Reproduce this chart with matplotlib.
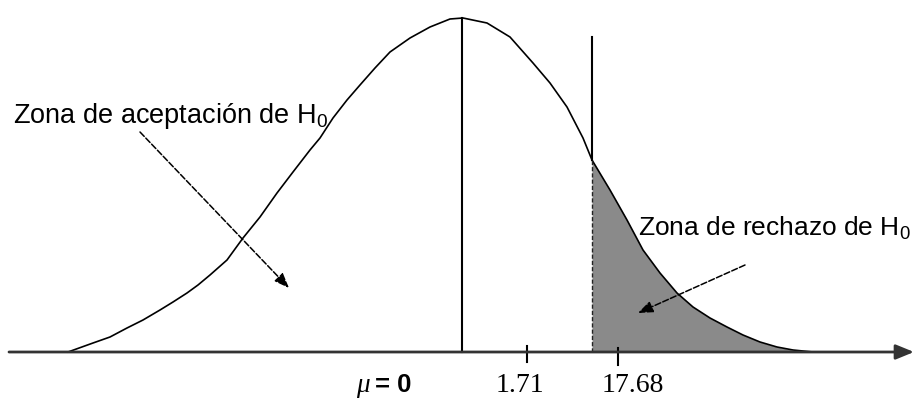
import matplotlib
matplotlib.use("Agg")
import matplotlib.pyplot as plt

# curve: horizontal position and height above the axis
curve_x = [68, 93, 110, 127, 143, 160, 173, 187, 198, 210, 227, 243, 260, 277,
           293, 310, 320, 333, 347, 360, 375, 390, 410, 430, 450, 463, 487, 510,
           533, 550, 567, 583, 592, 610, 627, 643, 660, 677, 693, 710, 727, 743,
           760, 777, 793, 813]
curve_h = [0, 9, 15, 24, 32, 42, 50, 59, 67, 77, 92, 114, 135, 159,
           180, 202, 214, 234, 252, 267, 284, 300, 314, 325, 333, 334, 329, 315,
           289, 269, 245, 214, 192, 162, 132, 102, 79, 59, 45, 34, 25, 17,
           10, 5, 2, 0]

mean_x = 462
critical_x = 592
critical_top = 315
tick_pos = [527, 618]
tick_labels = ["1.71", "17.68"]

accept_label = "Zona de aceptación de H$_\\mathrm{0}$"
reject_label = "Zona de rechazo de H$_\\mathrm{0}$"


def draw_chart() -> None:
    plt.rcParams["mathtext.fontset"] = "custom"
    plt.rcParams["mathtext.rm"] = "Liberation Sans"

    fig = plt.figure(figsize=(9.14, 4.0), dpi=100)
    ax = fig.add_axes([0, 0, 1, 1])
    ax.set_xlim(0, 914)
    ax.set_ylim(-48, 352)
    ax.axis("off")

    # rejection region
    shade_x = [x for x in curve_x if x >= critical_x]
    shade_h = [h for x, h in zip(curve_x, curve_h) if x >= critical_x]
    ax.fill_between(shade_x, 0, shade_h, color="#8a8a8a", lw=0)

    ax.plot(curve_x, curve_h, color="black", lw=1.2)

    # x axis with arrow
    ax.annotate("", xy=(914, 0), xytext=(9, 0),
                arrowprops=dict(arrowstyle="-|>,head_length=1.1,head_width=0.45",
                                color="#333333", lw=2.0, shrinkA=0, shrinkB=0))

    peak = max(curve_h)
    ax.plot([mean_x, mean_x], [0, peak], color="black", lw=1.5)
    crit_h = curve_h[curve_x.index(critical_x)]
    ax.plot([critical_x, critical_x], [crit_h, critical_top], color="black", lw=1.5)
    ax.plot([critical_x, critical_x], [0, crit_h], color="#222222", lw=1.0,
            linestyle=(0, (3, 1.5)))

    ax.plot([tick_pos[0]] * 2, [-10, 6], color="black", lw=1.5)
    ax.plot([tick_pos[1]] * 2, [-13, 4], color="black", lw=1.5)
    ax.text(tick_pos[0] - 7, -40, tick_labels[0], family="Liberation Serif",
            fontsize=20, ha="center", va="baseline")
    ax.text(tick_pos[1] + 15, -40, tick_labels[1], family="Liberation Serif",
            fontsize=20, ha="center", va="baseline")

    ax.text(356, -40, "μ", family="Liberation Serif", style="italic",
            fontsize=19.5, ha="left", va="baseline")
    ax.text(375, -40, "= 0", family="Liberation Sans", weight="bold",
            fontsize=18.5, ha="left", va="baseline")

    ax.text(13, 229, accept_label, family="Liberation Sans", fontsize=19.5,
            ha="left", va="baseline")
    ax.text(638, 117, reject_label, family="Liberation Sans", fontsize=19,
            ha="left", va="baseline")

    arrow_style = dict(arrowstyle="-|>,head_length=0.9,head_width=0.35",
                       color="black", lw=1.1, linestyle=(0, (4, 1.5)),
                       shrinkA=0, shrinkB=0)
    ax.annotate("", xy=(289, 64), xytext=(140, 220), arrowprops=arrow_style)
    ax.annotate("", xy=(638, 39), xytext=(745, 87), arrowprops=arrow_style)

    fig.savefig("out.png", dpi=100)


def main():
    draw_chart()


if __name__ == "__main__":
    main()
